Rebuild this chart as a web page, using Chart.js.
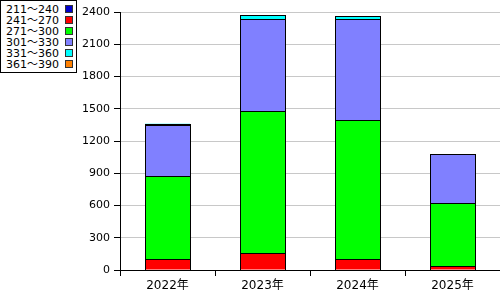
<!DOCTYPE html>
<html>
<head>
<meta charset="utf-8">
<script src="https://cdn.jsdelivr.net/npm/chart.js@4"></script>
<style>
  html, body { margin: 0; padding: 0; background: #fff; }
  #wrap { position: relative; width: 500px; height: 300px; }
  #legend {
    position: absolute; left: 0; top: 0; width: 77px; height: 73px;
    border: 1px solid #000; background: #fff; z-index: 2;
    font: 11px 'DejaVu Sans', 'Noto Sans CJK JP', sans-serif; color: #000;
    padding-top: 3px; box-sizing: border-box;
  }
  #legend div { position: relative; height: 11.1px; line-height: 11px; padding-left: 5px; }
  #legend span {
    position: absolute; left: 64px; top: 1px; width: 8px; height: 8px;
    border: 1px solid #333; box-sizing: border-box;
  }
</style>
</head>
<body>
<div id="wrap">
  <div id="legend"></div>
  <canvas id="chart" width="500" height="300"></canvas>
</div>
<script>
// Categories and series
const years = ['2022年', '2023年', '2024年', '2025年'];
const seriesLabels = ['211～240', '241～270', '271～300', '301～330', '331～360', '361～390'];
const seriesColors = ['#0000cc', '#ff0000', '#00ff00', '#8080ff', '#00ffff', '#ff8000'];

const s211 = [null, null, null, null];
const s241 = [100, 155, 100, 34];
const s271 = [774, 1324, 1295, 586];
const s301 = [475, 856, 938, 456];
const s331 = [12, 37, 30, null];
const s361 = [null, null, null, null];
const seriesValues = [s211, s241, s271, s301, s331, s361];

const yTicks = [0, 300, 600, 900, 1200, 1500, 1800, 2100, 2400];

// HTML legend
const legendEl = document.getElementById('legend');
seriesLabels.forEach((label, i) => {
    const row = document.createElement('div');
    row.textContent = label;
    const box = document.createElement('span');
    box.style.background = seriesColors[i];
    row.appendChild(box);
    legendEl.appendChild(row);
});

const fontFamily = "'DejaVu Sans', 'Noto Sans CJK JP', sans-serif";

// crisp 1px black outline around every bar segment (shared edges drawn once)
const outlinePlugin = {
    id: 'segmentOutline',
    afterDatasetsDraw(chart) {
        const ctx = chart.ctx;
        ctx.save();
        ctx.strokeStyle = '#000';
        ctx.lineWidth = 1;
        chart.data.datasets.forEach((ds, di) => {
            const meta = chart.getDatasetMeta(di);
            meta.data.forEach((bar, i) => {
                if (ds.data[i] == null) return;
                const l = Math.round(bar.x - bar.width / 2);
                const r = Math.round(bar.x + bar.width / 2);
                const t = Math.round(Math.min(bar.y, bar.base));
                const b = Math.round(Math.max(bar.y, bar.base));
                ctx.strokeRect(l + 0.5, t + 0.5, r - l, b - t);
            });
        });
        ctx.restore();
    }
};

new Chart(document.getElementById('chart'), {
    type: 'bar',
    data: {
        labels: years,
        datasets: seriesValues.map((vals, i) => ({
            label: seriesLabels[i],
            data: vals,
            backgroundColor: seriesColors[i],
            borderWidth: 0,
            inflateAmount: 0,
            barThickness: 45
        }))
    },
    options: {
        responsive: false,
        animation: false,
        layout: { padding: { top: 12, right: 0, left: 0, bottom: 0 } },
        plugins: { legend: { display: false }, tooltip: { enabled: false } },
        scales: {
            x: {
                stacked: true,
                offset: true,
                grid: { display: true, drawOnChartArea: false, drawTicks: true, tickLength: 6, tickColor: '#000' },
                border: { display: true, color: '#000', width: 1 },
                ticks: { color: '#000', font: { family: fontFamily, size: 12 }, padding: 3 },
                afterFit: scale => { scale.height = 30; }
            },
            y: {
                stacked: true,
                min: 0,
                max: 2400,
                afterBuildTicks: scale => { scale.ticks = yTicks.map(v => ({ value: v })); },
                grid: { color: '#c8c8c8', tickColor: '#000', tickLength: 6 },
                border: { display: true, color: '#000', width: 1 },
                ticks: {
                    color: '#000',
                    font: { family: fontFamily, size: 11 },
                    padding: 4,
                    callback: value => String(value)
                },
                afterFit: scale => { scale.width = 120; }
            }
        }
    },
    plugins: [outlinePlugin]
});
</script>
</body>
</html>
